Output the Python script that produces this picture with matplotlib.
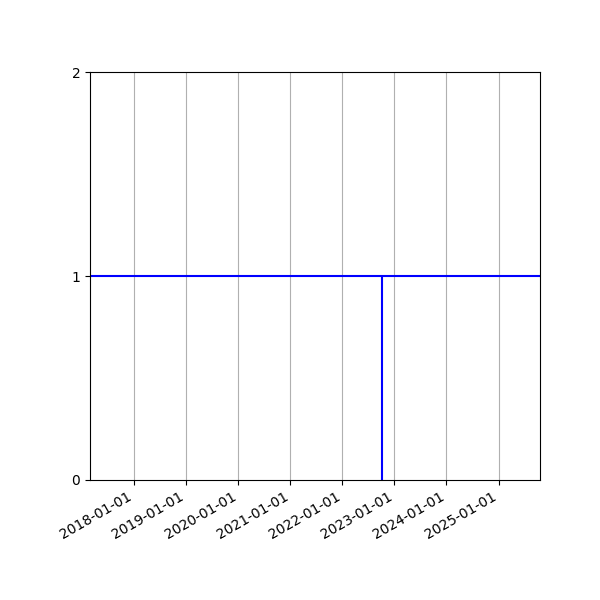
import datetime as dt
import matplotlib
matplotlib.use("Agg")
import matplotlib.pyplot as plt
import matplotlib.dates as mdates

# event date and axis range
event_date = dt.datetime(2022, 10, 4)
x_start = dt.datetime(2017, 2, 24)
x_end = dt.datetime(2025, 10, 19)
level = 1
y_ticks = [0, 1, 2]

fig, ax = plt.subplots(figsize=(6, 6), dpi=100)
fig.subplots_adjust(left=0.15, right=0.9, top=0.88, bottom=0.2)

ax.axhline(level, color="blue", linewidth=1.5)
ax.vlines(event_date, 0, level, color="blue", linewidth=1.5)

ax.set_xlim(x_start, x_end)
ax.set_ylim(0, 2)
ax.set_yticks(y_ticks)
ax.xaxis.set_major_locator(mdates.YearLocator())
ax.xaxis.set_major_formatter(mdates.DateFormatter("%Y-%m-%d"))
ax.grid(True, axis="x")
for lbl in ax.get_xticklabels():
    lbl.set_rotation(30)
    lbl.set_ha("right")

fig.savefig("out.png")
